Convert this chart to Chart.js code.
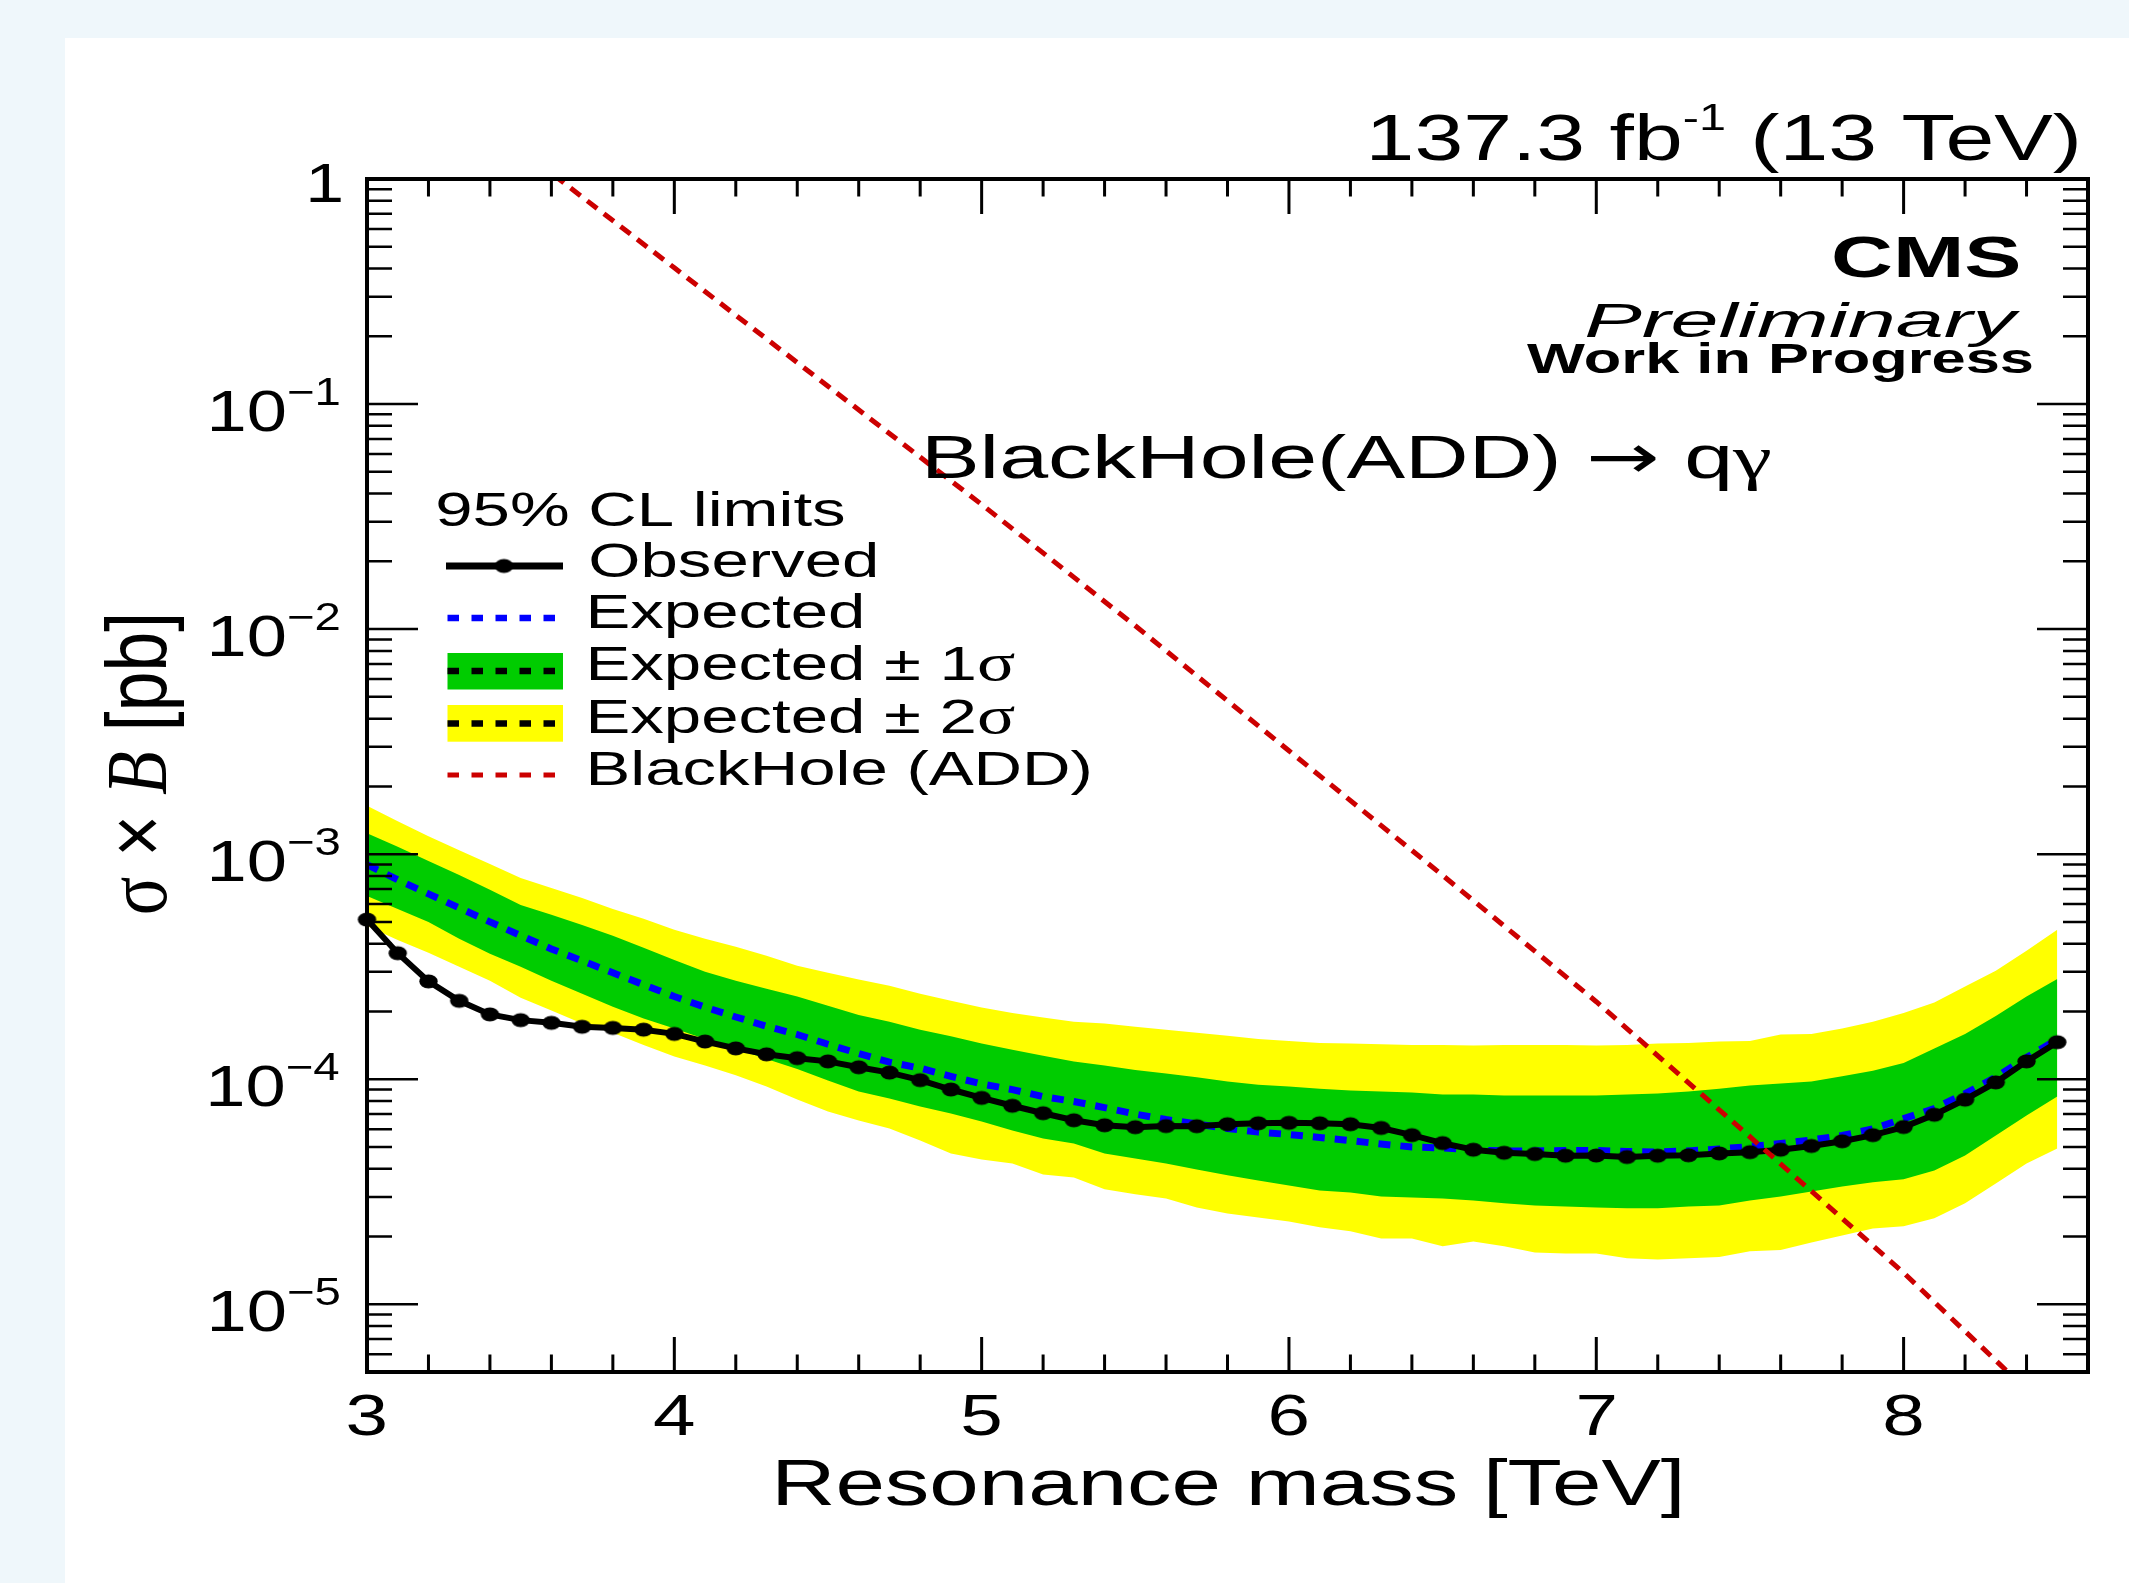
<!DOCTYPE html>
<html>
<head>
<meta charset="utf-8">
<script src="https://cdn.jsdelivr.net/npm/chart.js@4/dist/chart.umd.min.js"></script>
<style>
html,body{margin:0;padding:0;background:#eff7fb;overflow:hidden}
#wrap{position:absolute;left:0;top:0;width:2129px;height:1583px}
</style>
</head>
<body>
<div id="wrap"><canvas id="c" width="2129" height="1583"></canvas></div>
<script>
// ---------------- data ----------------
const masses = [3.0,3.1,3.2,3.3,3.4,3.5,3.6,3.7,3.8,3.9,4.0,4.1,4.2,4.3,4.4,4.5,4.6,4.7,4.8,4.9,
  5.0,5.1,5.2,5.3,5.4,5.5,5.6,5.7,5.8,5.9,6.0,6.1,6.2,6.3,6.4,6.5,6.6,6.7,6.8,6.9,
  7.0,7.1,7.2,7.3,7.4,7.5,7.6,7.7,7.8,7.9,8.0,8.1,8.2,8.3,8.4,8.5];

const observed = [5.12e-4,3.63e-4,2.72e-4,2.23e-4,1.94e-4,1.83e-4,1.78e-4,1.71e-4,1.69e-4,1.66e-4,
  1.59e-4,1.47e-4,1.37e-4,1.29e-4,1.24e-4,1.20e-4,1.13e-4,1.07e-4,9.9e-5,9.0e-5,
  8.26e-5,7.62e-5,7.06e-5,6.57e-5,6.24e-5,6.12e-5,6.19e-5,6.18e-5,6.31e-5,6.37e-5,
  6.40e-5,6.37e-5,6.31e-5,6.07e-5,5.64e-5,5.20e-5,4.86e-5,4.71e-5,4.65e-5,4.57e-5,
  4.58e-5,4.51e-5,4.57e-5,4.59e-5,4.68e-5,4.74e-5,4.86e-5,5.05e-5,5.30e-5,5.64e-5,
  6.13e-5,6.95e-5,8.11e-5,9.68e-5,1.20e-4,1.46e-4];

const expected = [8.98e-4,7.69e-4,6.66e-4,5.77e-4,5.00e-4,4.35e-4,3.79e-4,3.36e-4,2.97e-4,2.63e-4,
  2.33e-4,2.09e-4,1.89e-4,1.72e-4,1.58e-4,1.43e-4,1.30e-4,1.19e-4,1.12e-4,1.03e-4,
  9.53e-5,8.99e-5,8.37e-5,7.96e-5,7.48e-5,7.00e-5,6.62e-5,6.32e-5,6.04e-5,5.82e-5,
  5.68e-5,5.51e-5,5.34e-5,5.15e-5,5.00e-5,4.95e-5,4.85e-5,4.80e-5,4.80e-5,4.82e-5,
  4.82e-5,4.77e-5,4.75e-5,4.80e-5,4.90e-5,5.02e-5,5.18e-5,5.37e-5,5.62e-5,6.01e-5,
  6.68e-5,7.41e-5,8.63e-5,1.02e-4,1.25e-4,1.50e-4];

const plus1sigma = [1.24e-3,1.08e-3,9.33e-4,8.08e-4,6.94e-4,5.95e-4,5.38e-4,4.85e-4,4.34e-4,3.84e-4,
  3.39e-4,3.00e-4,2.74e-4,2.52e-4,2.33e-4,2.12e-4,1.93e-4,1.80e-4,1.66e-4,1.55e-4,
  1.44e-4,1.35e-4,1.27e-4,1.20e-4,1.15e-4,1.10e-4,1.06e-4,1.02e-4,9.76e-5,9.46e-5,
  9.27e-5,9.08e-5,8.90e-5,8.81e-5,8.72e-5,8.55e-5,8.55e-5,8.46e-5,8.46e-5,8.46e-5,
  8.46e-5,8.55e-5,8.63e-5,8.81e-5,9.08e-5,9.37e-5,9.56e-5,9.76e-5,1.03e-4,1.09e-4,
  1.18e-4,1.37e-4,1.59e-4,1.91e-4,2.33e-4,2.79e-4];

const minus1sigma = [6.52e-4,5.71e-4,5.00e-4,4.21e-4,3.61e-4,3.16e-4,2.74e-4,2.40e-4,2.10e-4,1.86e-4,
  1.68e-4,1.51e-4,1.37e-4,1.23e-4,1.11e-4,9.86e-5,8.81e-5,8.20e-5,7.56e-5,7.04e-5,
  6.49e-5,5.92e-5,5.45e-5,5.18e-5,4.68e-5,4.44e-5,4.22e-5,3.97e-5,3.74e-5,3.55e-5,
  3.37e-5,3.20e-5,3.14e-5,3.01e-5,2.98e-5,2.95e-5,2.89e-5,2.81e-5,2.75e-5,2.72e-5,
  2.69e-5,2.67e-5,2.67e-5,2.72e-5,2.75e-5,2.89e-5,3.01e-5,3.17e-5,3.34e-5,3.48e-5,
  3.59e-5,3.93e-5,4.58e-5,5.62e-5,6.90e-5,8.37e-5];

const plus2sigma = [1.64e-3,1.40e-3,1.20e-3,1.04e-3,9.05e-4,7.84e-4,7.08e-4,6.39e-4,5.71e-4,5.16e-4,
  4.61e-4,4.21e-4,3.88e-4,3.54e-4,3.19e-4,2.97e-4,2.77e-4,2.60e-4,2.40e-4,2.23e-4,
  2.08e-4,1.97e-4,1.88e-4,1.80e-4,1.77e-4,1.71e-4,1.66e-4,1.61e-4,1.56e-4,1.51e-4,
  1.48e-4,1.45e-4,1.44e-4,1.43e-4,1.42e-4,1.42e-4,1.41e-4,1.42e-4,1.42e-4,1.42e-4,
  1.41e-4,1.42e-4,1.44e-4,1.45e-4,1.47e-4,1.48e-4,1.58e-4,1.59e-4,1.68e-4,1.80e-4,
  1.97e-4,2.19e-4,2.58e-4,3.03e-4,3.72e-4,4.61e-4];

const minus2sigma = [4.80e-4,4.16e-4,3.65e-4,3.16e-4,2.74e-4,2.30e-4,2.02e-4,1.77e-4,1.61e-4,1.42e-4,
  1.26e-4,1.15e-4,1.04e-4,9.27e-5,8.12e-5,7.18e-5,6.55e-5,6.04e-5,5.34e-5,4.68e-5,
  4.40e-5,4.22e-5,3.77e-5,3.66e-5,3.24e-5,3.08e-5,2.95e-5,2.69e-5,2.53e-5,2.43e-5,
  2.33e-5,2.20e-5,2.11e-5,1.96e-5,1.96e-5,1.81e-5,1.90e-5,1.81e-5,1.70e-5,1.68e-5,
  1.68e-5,1.60e-5,1.58e-5,1.60e-5,1.62e-5,1.72e-5,1.74e-5,1.88e-5,2.02e-5,2.17e-5,
  2.22e-5,2.41e-5,2.81e-5,3.44e-5,4.22e-5,4.92e-5];

const bhMasses = [3.5,4.0,4.5,5.0,5.5,6.0,6.5,7.0,7.5,8.0,8.5];
const bhXsec   = [1.35,0.403,0.120,0.0358,0.01035,2.88e-3,8.05e-4,2.21e-4,5.55e-5,1.38e-5,3.09e-6];

const xTickValues = [3,4,5,6,7,8];
const xTickLabels = ['3','4','5','6','7','8'];
const yTickValues = [1,1e-1,1e-2,1e-3,1e-4,1e-5];
const yTickBase   = ['1','10','10','10','10','10'];
const yTickExp    = ['','\u22121','\u22122','\u22123','\u22124','\u22125'];

const legendHeader = '95% CL limits';
const legendLabels = ['Observed','Expected','Expected \u00b1 1','Expected \u00b1 2','BlackHole (ADD)'];

// ---------------- styling helpers ----------------
const FS = "'Liberation Sans', Arial, Helvetica, sans-serif";
const SERIF = "'Liberation Serif', 'Times New Roman', serif";
const SX = 1.34; // horizontal stretch of the reference
const GREEN = '#00cc00', YELLOW = '#ffff00', BLUE = '#0000ff', RED = '#cc0000';

function pts(xs, ys){ return xs.map((x,i)=>({x:x, y:ys[i]})); }

// ellipse marker (reference markers are horizontally stretched)
const marker = document.createElement('canvas');
marker.width = 21; marker.height = 17;
(function(){ const m = marker.getContext('2d'); m.fillStyle='#000'; m.beginPath();
  m.ellipse(10.5,8.5,9.2,7.0,0,0,Math.PI*2); m.fill(); })();

function measureSegs(ctx, segs){
  let off = 0, inkL = Infinity, inkR = -Infinity; const out = [];
  ctx.textAlign = 'left'; ctx.textBaseline = 'alphabetic';
  for (const s of segs){
    ctx.font = s.font;
    const m = ctx.measureText(s.text);
    out.push(Object.assign({}, s, {off:off}));
    inkL = Math.min(inkL, off - m.actualBoundingBoxLeft);
    inkR = Math.max(inkR, off + m.actualBoundingBoxRight);
    off += m.width;
  }
  return {segs:out, inkL:inkL, inkR:inkR};
}
function drawSegs(ctx, segs, x, y, o){
  o = o || {};
  const L = measureSegs(ctx, segs);
  let sx = o.sx || SX;
  if (o.fit) sx = o.fit / (L.inkR - L.inkL);
  let ox;
  if (o.align === 'right') ox = x - L.inkR*sx;
  else if (o.align === 'center') ox = x - (L.inkL+L.inkR)/2*sx;
  else ox = x - L.inkL*sx;
  ctx.save(); ctx.translate(ox, y); ctx.scale(sx, 1);
  ctx.fillStyle = '#000'; ctx.textAlign='left'; ctx.textBaseline='alphabetic';
  for (const s of L.segs){ ctx.font = s.font; ctx.fillText(s.text, s.off, s.dy || 0); }
  ctx.restore();
}

const decorPlugin = {
  id: 'decor',
  beforeDraw(chart){
    const ctx = chart.ctx;
    ctx.save();
    ctx.fillStyle = '#eff7fb'; ctx.fillRect(0,0,chart.width,chart.height);
    ctx.fillStyle = '#ffffff'; ctx.fillRect(65,38,chart.width-65,chart.height-38);
    ctx.restore();
  },
  afterDatasetsDraw(chart){
    const ctx = chart.ctx, a = chart.chartArea;
    const xs = chart.scales.x, ys = chart.scales.y;
    ctx.save();
    ctx.strokeStyle = '#000'; ctx.lineCap = 'butt';
    // ticks
    ctx.lineWidth = 3;
    for (let i = 0; i <= 28; i++){
      const v = 3 + i*0.2; if (v > xs.max + 1e-9) break;
      const px = xs.getPixelForValue(v);
      const major = Math.abs(v - Math.round(v)) < 1e-6;
      const len = major ? 35 : 17.5;
      ctx.beginPath(); ctx.moveTo(px, a.bottom); ctx.lineTo(px, a.bottom - len);
      ctx.moveTo(px, a.top); ctx.lineTo(px, a.top + len); ctx.stroke();
    }
    ctx.lineWidth = 2.5;
    for (let n = -6; n <= 0; n++){
      for (let k = 1; k <= 9; k++){
        const v = k*Math.pow(10,n);
        if (v < ys.min*0.999 || v > ys.max*1.001) continue;
        const py = ys.getPixelForValue(v);
        const len = (k === 1) ? 51 : 25;
        ctx.beginPath(); ctx.moveTo(a.left, py); ctx.lineTo(a.left + len, py);
        ctx.moveTo(a.right, py); ctx.lineTo(a.right - len, py); ctx.stroke();
      }
    }
    // frame
    ctx.lineWidth = 4;
    ctx.strokeRect(a.left, a.top, a.right - a.left, a.bottom - a.top);
    ctx.restore();

    // tick labels
    xTickValues.forEach((v,i)=>{
      drawSegs(ctx, [{text:xTickLabels[i], font:`57px ${FS}`}], xs.getPixelForValue(v), 1435, {align:'center'});
    });
    // common stretch for y labels: "10^-2" spans ~128 px in the reference
    const refLab = measureSegs(ctx, [{text:'10', font:`58px ${FS}`},{text:'\u22122', font:`38px ${FS}`}]);
    const ysx = 128/(refLab.inkR - refLab.inkL);
    yTickValues.forEach((v,i)=>{
      const py = ys.getPixelForValue(v);
      if (!yTickExp[i]) {
        drawSegs(ctx, [{text:yTickBase[i], font:`56px ${FS}`}], 341.5, py + 22.7, {align:'right', sx:ysx});
      } else {
        drawSegs(ctx, [{text:yTickBase[i], font:`58px ${FS}`},
                       {text:yTickExp[i], font:`38px ${FS}`, dy:-26}], 339.5, py + 27, {align:'right', sx:ysx});
      }
    });

    // axis titles
    drawSegs(ctx, [{text:'Resonance mass [TeV]', font:`65px ${FS}`}], 778, 1505, {fit:902});
    // y title (rotated)
    (function(){
      const segs = [{text:'\u03c3', font:`64px ${SERIF}`},{text:' \u00d7 ', font:`64px ${FS}`},
                    {text:'B', font:`italic 64px ${SERIF}`},{text:' [pb]', font:`64px ${FS}`}];
      const L = measureSegs(ctx, segs);
      const len = 297, sl = len/(L.inkR-L.inkL);
      ctx.save();
      ctx.translate(166, 764.5); ctx.scale(SX, 1); ctx.rotate(-Math.PI/2); ctx.scale(sl, 1);
      ctx.translate(-(L.inkL+L.inkR)/2, 0);
      ctx.fillStyle='#000'; ctx.textAlign='left'; ctx.textBaseline='alphabetic';
      for (const s of L.segs){ ctx.font = s.font; ctx.fillText(s.text, s.off, 0); }
      ctx.restore();
    })();

    // header texts
    drawSegs(ctx, [{text:'137.3 fb', font:`65px ${FS}`},{text:'-1', font:`36px ${FS}`, dy:-30},
                   {text:' (13 TeV)', font:`65px ${FS}`}], 1371, 160, {fit:706});
    drawSegs(ctx, [{text:'CMS', font:`bold 58px ${FS}`}], 1834, 277, {fit:185});
    drawSegs(ctx, [{text:'Preliminary', font:`italic 49px ${FS}`}], 1586, 337, {fit:434});
    drawSegs(ctx, [{text:'Work in Progress', font:`bold 42px ${FS}`}], 1527, 373, {fit:505});
    drawSegs(ctx, [{text:'BlackHole(ADD) ', font:`62px ${FS}`},{text:'\u2192', font:`62px 'DejaVu Sans', ${FS}`},
                   {text:' q', font:`62px ${FS}`},{text:'\u03b3', font:`62px ${SERIF}`}], 928, 478, {fit:842});

    // legend
    const LSX = 1.37;
    drawSegs(ctx, [{text:legendHeader, font:`49px ${FS}`}], 438, 526, {sx:LSX});
    const rows = [577, 628, 680, 733, 785];
    legendLabels.forEach((t,i)=>{
      const segs = [{text:t, font:`49px ${FS}`}];
      if (i === 2 || i === 3) segs.push({text:'\u03c3', font:`52px ${SERIF}`});
      drawSegs(ctx, segs, 591, rows[i], {sx:LSX});
    });
    ctx.save();
    ctx.lineCap = 'butt';
    // observed
    ctx.strokeStyle = '#000'; ctx.lineWidth = 7;
    ctx.beginPath(); ctx.moveTo(446,566); ctx.lineTo(563,566); ctx.stroke();
    ctx.drawImage(marker, 504 - marker.width/2, 566 - marker.height/2);
    // expected
    ctx.setLineDash([11.5,12.5]);
    ctx.strokeStyle = BLUE; ctx.lineWidth = 6.5;
    ctx.beginPath(); ctx.moveTo(447.5,618); ctx.lineTo(556,618); ctx.stroke();
    // 1 sigma
    ctx.fillStyle = GREEN; ctx.fillRect(447.5,653,115.5,36.5);
    ctx.strokeStyle = '#000';
    ctx.beginPath(); ctx.moveTo(447.5,671); ctx.lineTo(556,671); ctx.stroke();
    // 2 sigma
    ctx.fillStyle = YELLOW; ctx.fillRect(447.5,705,115.5,36.7);
    ctx.beginPath(); ctx.moveTo(447.5,723.5); ctx.lineTo(556,723.5); ctx.stroke();
    // BH
    ctx.strokeStyle = RED; ctx.lineWidth = 5;
    ctx.beginPath(); ctx.moveTo(447.5,775); ctx.lineTo(556,775); ctx.stroke();
    ctx.restore();
  }
};

const noLine = 'rgba(0,0,0,0)';
const chart = new Chart(document.getElementById('c'), {
  type: 'line',
  data: {
    datasets: [
      {label:'BlackHole (ADD)', data:pts(bhMasses,bhXsec), borderColor:RED, borderWidth:5,
       borderDash:[12.5,8.5], pointRadius:0, fill:false, tension:0, order:0},
      {label:'Observed', data:pts(masses,observed), borderColor:'#000', borderWidth:6,
       pointStyle:marker, pointRadius:9, pointBackgroundColor:'#000', pointBorderColor:'#000',
       fill:false, tension:0, clip:false, order:1},
      {label:'Expected', data:pts(masses,expected), borderColor:BLUE, borderWidth:7,
       borderDash:[12,10], pointRadius:0, fill:false, tension:0, order:2},
      {label:'Expected +1 sigma', data:pts(masses,plus1sigma), borderColor:noLine, borderWidth:0,
       backgroundColor:GREEN, fill:'+1', pointRadius:0, tension:0, order:3},
      {label:'Expected -1 sigma', data:pts(masses,minus1sigma), borderColor:noLine, borderWidth:0,
       pointRadius:0, fill:false, tension:0, order:4},
      {label:'Expected +2 sigma', data:pts(masses,plus2sigma), borderColor:noLine, borderWidth:0,
       backgroundColor:YELLOW, fill:'+1', pointRadius:0, tension:0, order:5},
      {label:'Expected -2 sigma', data:pts(masses,minus2sigma), borderColor:noLine, borderWidth:0,
       pointRadius:0, fill:false, tension:0, order:6}
    ]
  },
  options: {
    responsive:false, devicePixelRatio:1, animation:false, events:[],
    layout:{padding:{left:367, right:41, top:179, bottom:211}},
    plugins:{legend:{display:false}, tooltip:{enabled:false}, title:{display:false}},
    scales:{
      x:{type:'linear', min:3, max:8.6, grid:{display:false, drawTicks:false},
         border:{display:false}, ticks:{display:false}},
      y:{type:'logarithmic', min:5e-6, max:1, grid:{display:false, drawTicks:false},
         border:{display:false}, ticks:{display:false}}
    }
  },
  plugins:[decorPlugin]
});
</script>
</body>
</html>
